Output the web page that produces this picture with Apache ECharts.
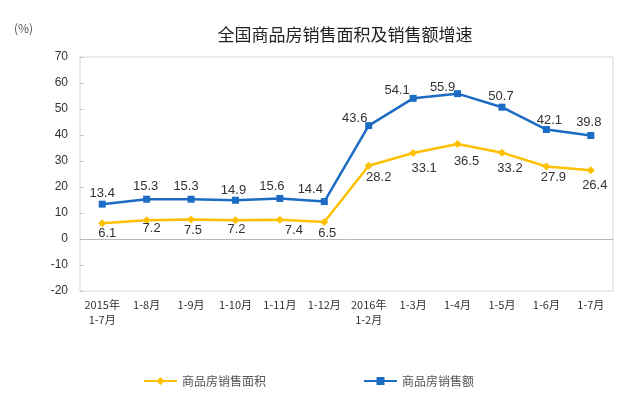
<!DOCTYPE html>
<html><head><meta charset="utf-8">
<script src="https://cdn.jsdelivr.net/npm/echarts@6/dist/echarts.min.js"></script>
<style>html,body{margin:0;padding:0;background:#fff}#c{width:640px;height:404px}</style>
</head><body><div id="c"></div>
<script>
const categories = ["2015年\n1-7月","1-8月","1-9月","1-10月","1-11月","1-12月","2016年\n1-2月","1-3月","1-4月","1-5月","1-6月","1-7月"];
const areaGrowth = [6.1,7.2,7.5,7.2,7.4,6.5,28.2,33.1,36.5,33.2,27.9,26.4];
const salesGrowth = [13.4,15.3,15.3,14.9,15.6,14.4,43.6,54.1,55.9,50.7,42.1,39.8];
const seriesNames = ["商品房销售面积","商品房销售额"];
const yTicks = {min:-20,max:70,interval:10};
// label placement (style only): offset of each value label from its point
const areaLabelOffsets = [[5,10],[5,8],[2,11],[1,9],[14,11],[3,11],[10,12],[11,15],[9,17],[8,16],[7,11],[4,15]];
const salesLabelOffsets = [[0,-11],[-1,-13],[-5,-13],[-2,-10],[-8,-12],[-14,-12],[-14,-7],[-16,-8],[-15,-6],[-1,-11],[3,-9],[-2,-13]];
const cjk = '"Noto Sans CJK SC", sans-serif';
const latin = '"Liberation Sans", Arial, sans-serif';
function withLabels(vals, offs){
  return vals.map((v,i)=>({value:v,label:{offset:offs[i]}}));
}
const chart = echarts.init(document.getElementById('c'));
chart.setOption({
  animation:false,
  title:{text:'全国商品房销售面积及销售额增速',left:340,textAlign:'center',top:21,
    textStyle:{fontFamily:cjk,fontSize:17,fontWeight:'normal',color:'#222'}},
  graphic:[{type:'text',left:14,top:22,style:{text:'(%)',font:'12px '+cjk,fill:'#555'}}],
  legend:[
    {data:[seriesNames[0]],left:138,top:370,itemWidth:33,itemHeight:10,itemGap:6,
      textStyle:{fontFamily:cjk,fontSize:12,color:'#555'}},
    {data:[seriesNames[1]],left:358,top:370,itemWidth:33,itemHeight:10,
      textStyle:{fontFamily:cjk,fontSize:12,color:'#555'}}
  ],
  grid:{left:80,right:27,top:57,bottom:113,show:true,borderColor:'#d6d6d6',borderWidth:1},
  xAxis:{type:'category',data:categories,boundaryGap:true,
    axisLine:{show:false},axisTick:{show:false},
    axisLabel:{interval:0,fontFamily:cjk,fontSize:11,color:'#333',margin:6,lineHeight:15}},
  yAxis:{type:'value',min:yTicks.min,max:yTicks.max,interval:yTicks.interval,
    axisLine:{show:false},splitLine:{show:false},
    axisTick:{show:true,inside:true,length:4,lineStyle:{color:'#c8c8c8'}},
    axisLabel:{fontFamily:latin,fontSize:12,color:'#333',margin:12}},
  series:[
    {name:seriesNames[0],type:'line',data:withLabels(areaGrowth,areaLabelOffsets),symbol:'diamond',symbolSize:8,
      color:'#FFC000',lineStyle:{width:2.5,color:'#FFC000'},itemStyle:{color:'#FFC000'},
      label:{show:true,position:'inside',fontFamily:latin,fontSize:13,color:'#333'},
      markLine:{silent:true,symbol:'none',label:{show:false},lineStyle:{color:'#b8b8b8',width:1,type:'solid'},data:[{yAxis:0}]}},
    {name:seriesNames[1],type:'line',data:withLabels(salesGrowth,salesLabelOffsets),symbol:'rect',symbolSize:7,
      color:'#1C6CC4',lineStyle:{width:2.5,color:'#1C6CC4'},itemStyle:{color:'#1C6CC4'},
      label:{show:true,position:'inside',fontFamily:latin,fontSize:13,color:'#333'}}
  ]
});
</script></body></html>
